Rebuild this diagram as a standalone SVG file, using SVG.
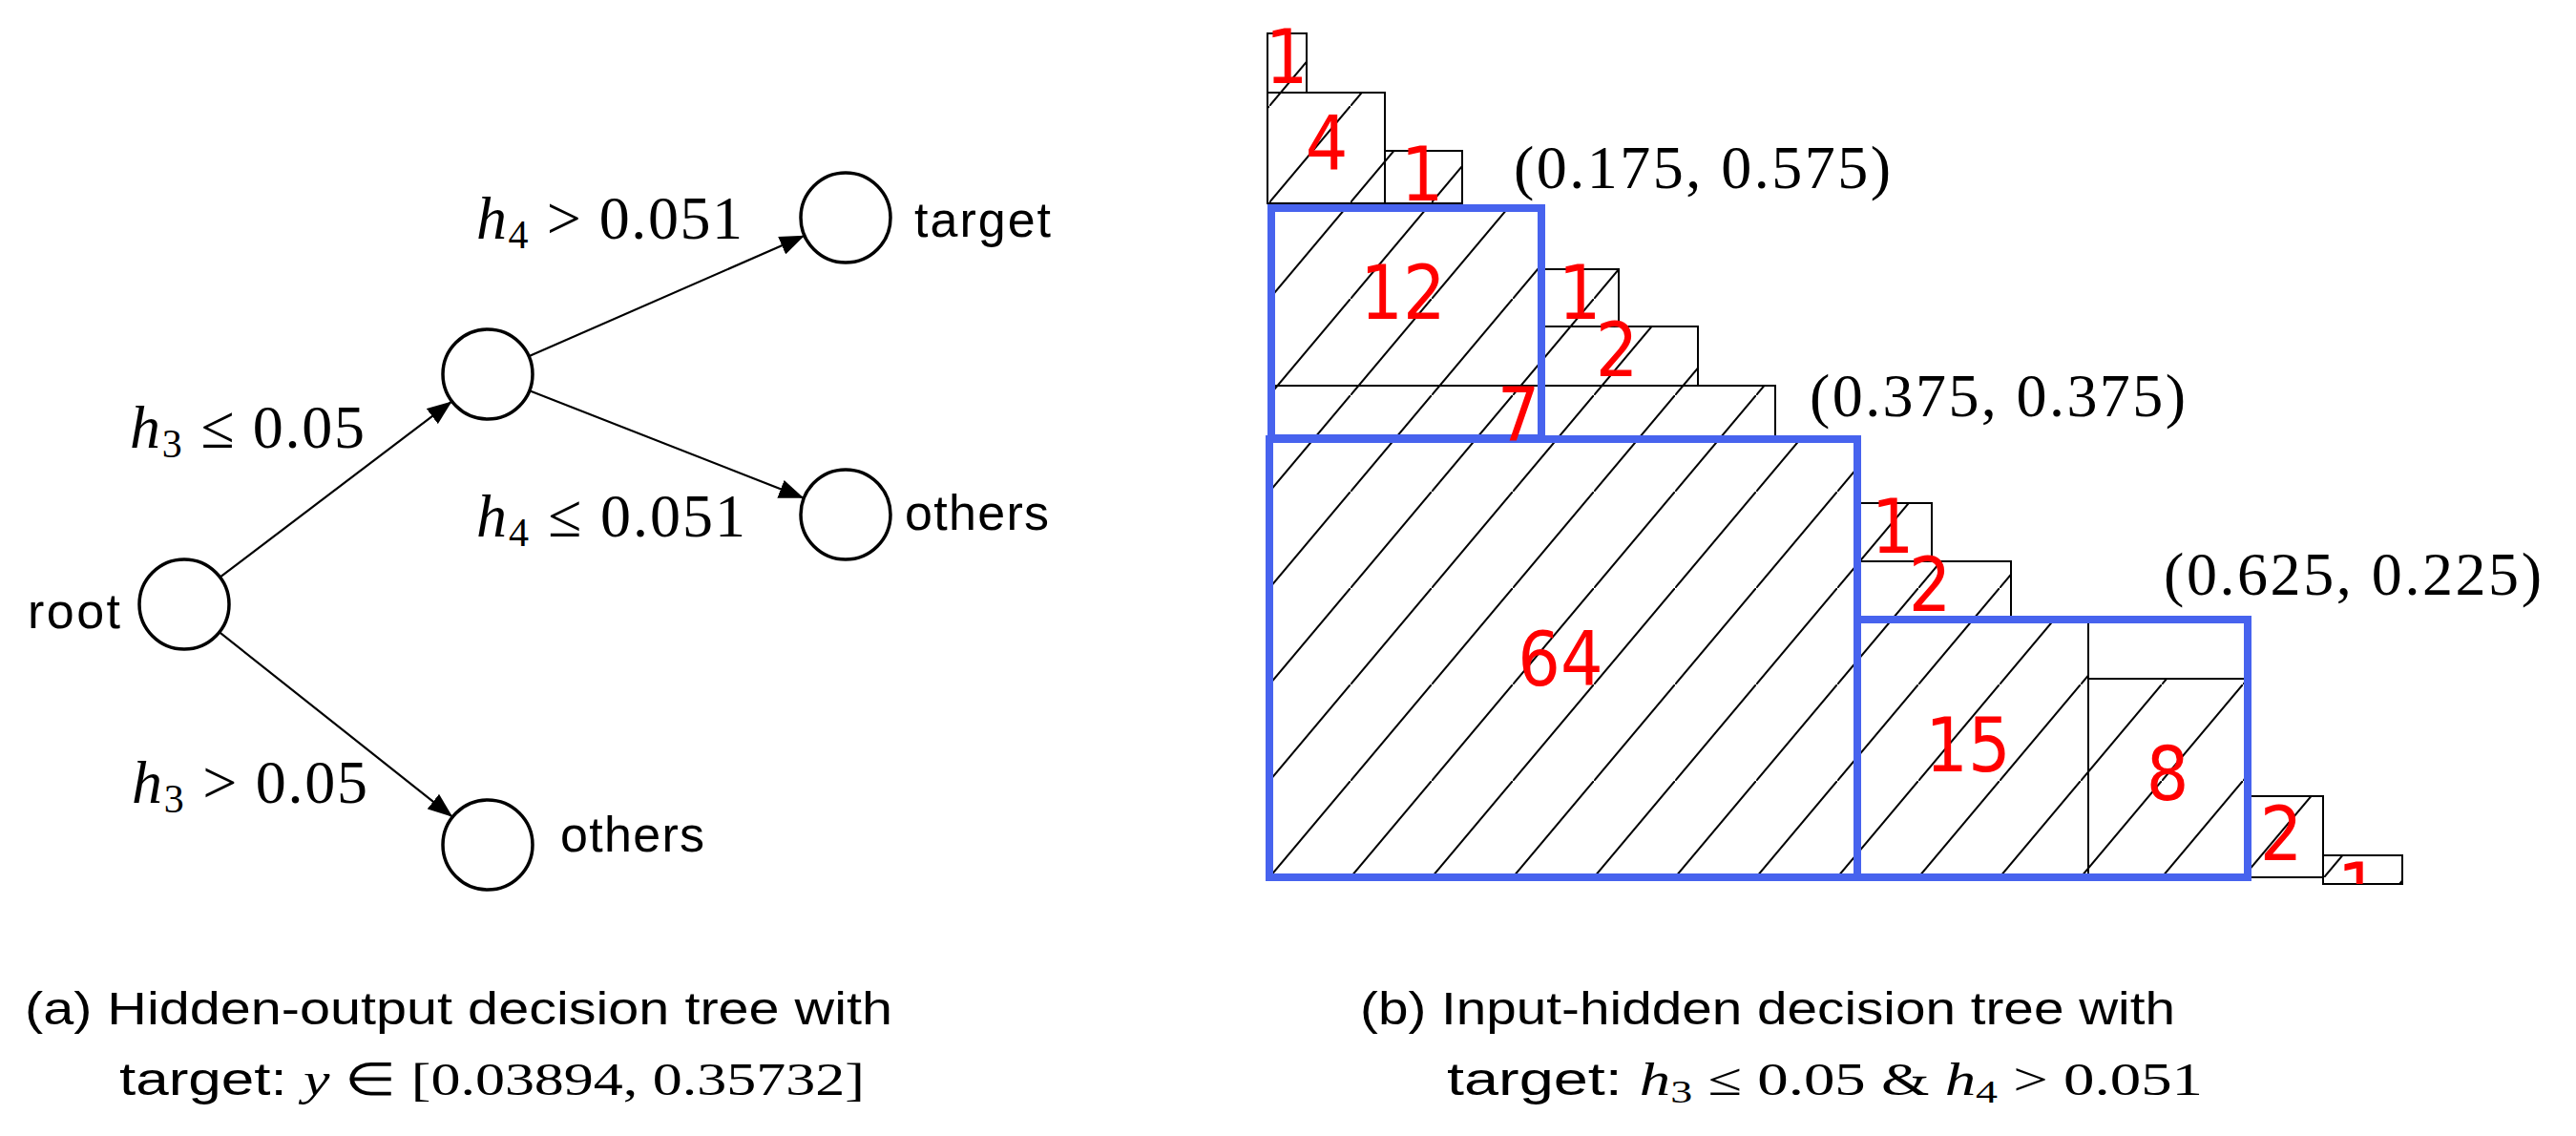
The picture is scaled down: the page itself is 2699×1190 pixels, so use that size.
<svg xmlns="http://www.w3.org/2000/svg" width="2699" height="1190" viewBox="0 0 2699 1190">
<style>
.lbl{font-family:"Liberation Sans",Arial,sans-serif;font-size:52px;fill:#000}
.math{font-family:"Liberation Serif","Times New Roman",serif;font-size:64px;fill:#000}
.cap{font-family:"Liberation Sans",Arial,sans-serif;font-size:48px;fill:#000}
.capm{font-family:"Liberation Serif","Times New Roman",serif}
.coord{font-family:"Liberation Serif","Times New Roman",serif;font-size:64px;fill:#000}
.num{font-family:"DejaVu Sans Condensed","DejaVu Sans",sans-serif;font-size:78px;fill:#ff0000;text-anchor:middle}
.node{fill:#fff;stroke:#000;stroke-width:3.5}
.edge{stroke:#000;stroke-width:2.2;fill:none}
.cell{fill:url(#hatch);stroke:#000;stroke-width:2}
.blue{fill:none;stroke:#4763ee;stroke-width:8}
</style>
<defs>
<marker id="arrbig" markerWidth="26" markerHeight="20" refX="26" refY="10" orient="auto" markerUnits="userSpaceOnUse">
<path d="M0,0 L26,10 L0,20 Z" fill="#000"/>
</marker>
<pattern id="hatch" patternUnits="userSpaceOnUse" x="1330" y="919" width="85" height="101">
<rect width="85" height="101" fill="#fff"/>
<path d="M-10,113 L95,-12" stroke="#000" stroke-width="2"/>
</pattern>
<clipPath id="clipb"><rect x="0" y="0" width="2699" height="926"/></clipPath>
</defs>

<g id="connectors">
<line class="edge" marker-end="url(#arrbig)" x1="230.5" y1="604.6" x2="473.5" y2="420.4"/>
<line class="edge" marker-end="url(#arrbig)" x1="229.8" y1="662.2" x2="474.2" y2="855.8"/>
<line class="edge" marker-end="url(#arrbig)" x1="554" y1="373.2" x2="843" y2="246.8"/>
<line class="edge" marker-end="url(#arrbig)" x1="554.8" y1="409.2" x2="842.2" y2="521.8"/>
</g>

<g id="edge-labels">
<text class="math" x="499" y="250" textLength="279" lengthAdjust="spacing"><tspan font-style="italic">h</tspan><tspan font-size="42" dy="10">4</tspan><tspan dy="-10"> &gt; 0.051</tspan></text>
<text class="math" x="136" y="469" textLength="246" lengthAdjust="spacing"><tspan font-style="italic">h</tspan><tspan font-size="42" dy="10">3</tspan><tspan dy="-10"> ≤ 0.05</tspan></text>
<text class="math" x="499" y="562" textLength="282" lengthAdjust="spacing"><tspan font-style="italic">h</tspan><tspan font-size="42" dy="10">4</tspan><tspan dy="-10"> ≤ 0.051</tspan></text>
<text class="math" x="138" y="841" textLength="247" lengthAdjust="spacing"><tspan font-style="italic">h</tspan><tspan font-size="42" dy="10">3</tspan><tspan dy="-10"> &gt; 0.05</tspan></text>
</g>

<g id="root"><circle class="node" cx="193" cy="633" r="47"/><text class="lbl" x="29" y="658" textLength="97">root</text></g>
<g id="mid"><circle class="node" cx="511" cy="392" r="47"/></g>
<g id="target"><circle class="node" cx="886" cy="228" r="47"/><text class="lbl" x="958" y="248" textLength="143">target</text></g>
<g id="others1"><circle class="node" cx="886" cy="539" r="47"/><text class="lbl" x="948" y="555" textLength="151">others</text></g>
<g id="others2"><circle class="node" cx="511" cy="885" r="47"/><text class="lbl" x="587" y="892" textLength="151">others</text></g>

<g id="caption-a">
<text class="cap" x="26" y="1073" textLength="909" lengthAdjust="spacingAndGlyphs">(a)  Hidden-output decision tree with</text>
<text class="cap" x="125" y="1147" textLength="781" lengthAdjust="spacingAndGlyphs">target: <tspan class="capm" font-style="italic">y</tspan><tspan class="capm"> ∈ [0.03894, 0.35732]</tspan></text>
</g>

<g id="panel-b">
<rect class="cell" x="1328" y="35" width="41" height="62"/>
<rect class="cell" x="1328" y="97" width="123" height="116"/>
<rect class="cell" x="1451" y="158" width="81" height="55"/>
<rect class="cell" x="1332" y="218" width="283" height="186"/>
<rect class="cell" x="1615" y="282" width="81" height="60"/>
<rect class="cell" x="1615" y="342" width="164" height="62"/>
<rect class="cell" x="1332" y="404" width="528" height="56"/>
<rect class="cell" x="1330" y="460" width="616" height="459"/>
<rect class="cell" x="1946" y="527" width="78" height="61"/>
<rect class="cell" x="1946" y="588" width="161" height="61"/>
<rect class="cell" x="1946" y="649" width="242" height="270"/>
<rect x="2188" y="649" width="167" height="62" fill="#fff" stroke="#000" stroke-width="2"/>
<rect class="cell" x="2188" y="711" width="167" height="208"/>
<rect class="cell" x="2355" y="834" width="79" height="85"/>
<rect class="cell" x="2434" y="896" width="83" height="30"/>
<rect class="blue" x="1332" y="218" width="283" height="241"/>
<rect class="blue" x="1330" y="460" width="616" height="459"/>
<rect class="blue" x="1946" y="649" width="409" height="270"/>
<g clip-path="url(#clipb)">
<text class="num" x="1348" y="87">1</text>
<text class="num" x="1390" y="178">4</text>
<text class="num" x="1490" y="210">1</text>
<text class="num" x="1470" y="334">12</text>
<text class="num" x="1655" y="334">1</text>
<text class="num" x="1694" y="394">2</text>
<text class="num" x="1591" y="462">7</text>
<text class="num" x="1635" y="718">64</text>
<text class="num" x="1983" y="579">1</text>
<text class="num" x="2022" y="640">2</text>
<text class="num" x="2062" y="808">15</text>
<text class="num" x="2271" y="838">8</text>
<text class="num" x="2390" y="901">2</text>
<text class="num" x="2471" y="960">1</text>
</g>
<text class="coord" x="1586" y="197" textLength="395">(0.175,   0.575)</text>
<text class="coord" x="1896" y="436" textLength="394">(0.375,   0.375)</text>
<text class="coord" x="2267" y="623" textLength="396">(0.625,   0.225)</text>
</g>

<g id="caption-b">
<text class="cap" x="1425" y="1073" textLength="854" lengthAdjust="spacingAndGlyphs">(b) Input-hidden decision tree with</text>
<text class="cap" x="1516" y="1147" textLength="792" lengthAdjust="spacingAndGlyphs">target: <tspan class="capm" font-style="italic">h</tspan><tspan class="capm" font-size="34" dy="8">3</tspan><tspan class="capm" dy="-8"> ≤ 0.05 &amp; </tspan><tspan class="capm" font-style="italic">h</tspan><tspan class="capm" font-size="34" dy="8">4</tspan><tspan class="capm" dy="-8"> &gt; 0.051</tspan></text>
</g>
</svg>
